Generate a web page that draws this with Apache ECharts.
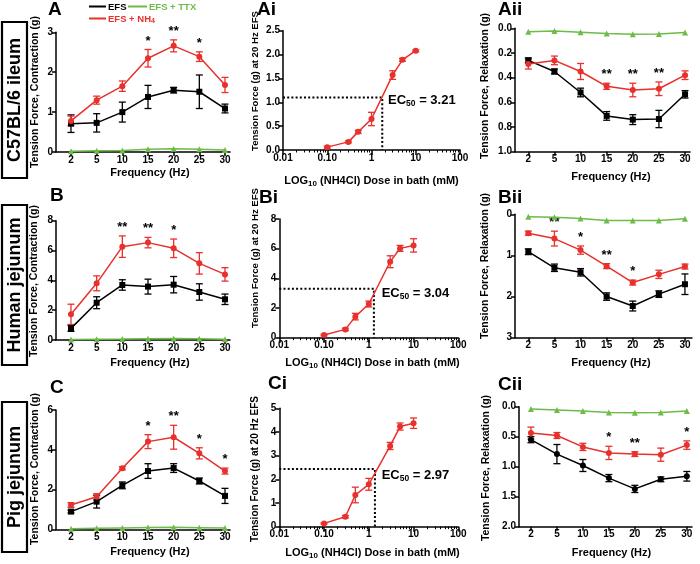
<!DOCTYPE html>
<html><head><meta charset="utf-8">
<script src="https://cdn.jsdelivr.net/npm/echarts@6/dist/echarts.min.js"></script>
<style>html,body{margin:0;padding:0;background:#fff}#c{width:700px;height:564px}</style>
</head><body><div id="c"></div>
<script>
// ---------------- DATA ----------------
const freqLabels = ['2', '5', '10', '15', '20', '25', '30'];
const doses = [0.1, 0.3, 0.5, 1, 3, 5, 10];
const logTickValues = [0.01, 0.1, 1, 10, 100];
const logTickLabels = ['0.01', '0.10', '1', '10', '100'];
const logMinorTicks = [0.02,0.03,0.04,0.05,0.06,0.07,0.08,0.09,0.2,0.3,0.4,0.5,0.6,0.7,0.8,0.9,2,3,4,5,6,7,8,9,20,30,40,50,60,70,80,90];

// Panel A (C57BL/6 ileum, contraction)
const A_efs = [0.71, 0.73, 1.00, 1.38, 1.55, 1.51, 1.09];
const A_efsErr = [0.22, 0.23, 0.25, 0.29, 0.07, 0.42, 0.11];
const A_nh4 = [0.78, 1.30, 1.65, 2.35, 2.66, 2.39, 1.68];
const A_nh4Err = [0.12, 0.10, 0.13, 0.22, 0.15, 0.12, 0.19];
const A_ttx = [0.02, 0.03, 0.04, 0.07, 0.08, 0.07, 0.05];
const A_sig = ['', '', '', '*', '**', '*', ''];

// Panel Ai (dose response)
const Ai_force = [0.06, 0.17, 0.38, 0.65, 1.57, 1.89, 2.08];
const Ai_err = [0.02, 0.02, 0.03, 0.14, 0.09, 0.03, 0.02];
const Ai_ec = [1.75, 1.1];
const Ai_ec50 = '3.21';

// Panel Aii (relaxation)
const Aii_efs = [0.26, 0.35, 0.52, 0.71, 0.74, 0.735, 0.535];
const Aii_efsErr = [0.02, 0.02, 0.035, 0.035, 0.04, 0.07, 0.03];
const Aii_nh4 = [0.29, 0.26, 0.35, 0.47, 0.50, 0.49, 0.38];
const Aii_nh4Err = [0.04, 0.035, 0.065, 0.025, 0.055, 0.055, 0.035];
const Aii_ttx = [0.027, 0.022, 0.032, 0.043, 0.049, 0.046, 0.035];
const Aii_sig = ['', '', '', '**', '**', '**', ''];

// Panel B (Human jejunum)
const B_efs = [0.78, 2.5, 3.69, 3.58, 3.71, 3.22, 2.73];
const B_efsErr = [0.2, 0.4, 0.35, 0.5, 0.55, 0.55, 0.35];
const B_nh4 = [1.72, 3.8, 6.26, 6.53, 6.15, 5.14, 4.4];
const B_nh4Err = [0.68, 0.5, 0.72, 0.35, 0.62, 0.72, 0.45];
const B_ttx = [0.03, 0.05, 0.06, 0.08, 0.1, 0.08, 0.05];
const B_sig = ['', '', '**', '**', '*', '', ''];

const Bi_force = [0.18, 0.56, 1.42, 2.27, 5.12, 6.02, 6.22];
const Bi_err = [0.05, 0.08, 0.22, 0.2, 0.4, 0.2, 0.45];
const Bi_ec = [1.3, 3.3];
const Bi_ec50 = '3.04';

const Bii_efs = [0.91, 1.3, 1.41, 2.0, 2.23, 1.94, 1.7];
const Bii_efsErr = [0.07, 0.09, 0.09, 0.09, 0.12, 0.08, 0.25];
const Bii_nh4 = [0.46, 0.59, 0.87, 1.26, 1.66, 1.46, 1.27];
const Bii_nh4Err = [0.05, 0.18, 0.1, 0.06, 0.06, 0.1, 0.06];
const Bii_ttx = [0.057, 0.07, 0.1, 0.15, 0.15, 0.15, 0.11];
const Bii_sig = ['', '**', '*', '**', '*', '', ''];

// Panel C (Pig jejunum)
const C_efs = [0.89, 1.39, 2.21, 2.93, 3.08, 2.43, 1.68];
const C_efsErr = [0.07, 0.32, 0.17, 0.37, 0.22, 0.15, 0.38];
const C_nh4 = [1.22, 1.64, 3.07, 4.41, 4.63, 3.82, 2.93];
const C_nh4Err = [0.12, 0.15, 0.08, 0.35, 0.6, 0.28, 0.15];
const C_ttx = [0.03, 0.05, 0.07, 0.09, 0.1, 0.08, 0.06];
const C_sig = ['', '', '', '*', '**', '*', '*'];

const Ci_force = [0.14, 0.42, 1.34, 1.79, 3.41, 4.23, 4.37];
const Ci_err = [0.03, 0.05, 0.33, 0.25, 0.15, 0.15, 0.22];
const Ci_ec = [1.37, 2.44];
const Ci_ec50 = '2.97';

const Cii_efs = [0.55, 0.79, 0.98, 1.19, 1.37, 1.21, 1.16];
const Cii_efsErr = [0.05, 0.16, 0.1, 0.06, 0.06, 0.04, 0.08];
const Cii_nh4 = [0.44, 0.48, 0.67, 0.77, 0.79, 0.80, 0.64];
const Cii_nh4Err = [0.1, 0.05, 0.06, 0.11, 0.04, 0.11, 0.07];
const Cii_ttx = [0.04, 0.055, 0.07, 0.095, 0.1, 0.095, 0.07];
const Cii_sig = ['', '', '', '*', '**', '', '*'];

// ---------------- BUILD ----------------
const FONT = '"Liberation Sans", Arial, Helvetica, sans-serif';
const RED = '#e8302c', GREEN = '#6dbb48', BLACK = '#000000';
const grid = [], xAxis = [], yAxis = [], series = [], graphic = [];
const idx = freqLabels.map((_, i) => i);

function baseAxis() {
  return {
    axisLine: { show: true, onZero: false, lineStyle: { color: '#000', width: 1.5 } },
    axisTick: { show: true, length: 4, lineStyle: { color: '#000', width: 1.5 } },
    axisLabel: { color: '#000', fontFamily: FONT, fontWeight: 'bold', fontSize: 10, margin: 3 },
    splitLine: { show: false }
  };
}
function lineS(name, data, color, symbol, size, ax) {
  return Object.assign({
    type: 'line', name, data, symbol, symbolSize: size, color,
    lineStyle: { color, width: 1.5 }, itemStyle: { color }, animation: false
  }, ax);
}
function errS(name, xs, mean, err, color, ax) {
  return Object.assign({
    type: 'custom', name, animation: false,
    data: mean.map((m, i) => [xs[i], m - err[i], m + err[i]]),
    renderItem: function (params, api) {
      const p1 = api.coord([api.value(0), api.value(1)]);
      const p2 = api.coord([api.value(0), api.value(2)]);
      const w = 3.5, st = { stroke: color, lineWidth: 1.3 };
      return { type: 'group', children: [
        { type: 'line', shape: { x1: p1[0], y1: p1[1], x2: p2[0], y2: p2[1] }, style: st },
        { type: 'line', shape: { x1: p1[0] - w, y1: p1[1], x2: p1[0] + w, y2: p1[1] }, style: st },
        { type: 'line', shape: { x1: p2[0] - w, y1: p2[1], x2: p2[0] + w, y2: p2[1] }, style: st }
      ]};
    }
  }, ax);
}
function starS(mean, err, sig, ax) {
  return Object.assign({
    type: 'custom', name: 'sig', animation: false, silent: true,
    data: mean.map((m, i) => [i, m - err[i], m + err[i]]),
    renderItem: function (params, api) {
      const s = sig[params.dataIndex];
      if (!s) return null;
      const a = api.coord([api.value(0), api.value(1)]);
      const b = api.coord([api.value(0), api.value(2)]);
      const y = Math.min(a[1], b[1]);
      return { type: 'text', x: a[0], y: y - 2,
        style: { text: s, fill: '#000', font: 'bold 13px ' + FONT, align: 'center', verticalAlign: 'bottom' } };
    }
  }, ax);
}

function addFreqPanel(p) {
  const gi = grid.length;
  grid.push({ left: p.box[0], top: p.box[1], width: p.box[2], height: p.box[3] });
  const xi = xAxis.length;
  const xa = baseAxis();
  Object.assign(xa, { type: 'value', gridIndex: gi, position: 'bottom', min: p.xMin, max: p.xMax });
  xa.axisTick.customValues = idx;
  xa.axisLabel.customValues = idx;
  xa.axisLabel.formatter = v => freqLabels[Math.round(v)];
  xAxis.push(xa);
  const yi = yAxis.length;
  const ya = baseAxis();
  Object.assign(ya, { type: 'value', gridIndex: gi, position: 'left', min: 0, max: p.yMax, interval: p.yInt, inverse: !!p.inverse });
  ya.axisLabel.formatter = p.yFmt;
  yAxis.push(ya);
  const ax = { xAxisIndex: xi, yAxisIndex: yi };
  series.push(lineS('EFS + TTX', p.ttx.map((v, i) => [i, v]), GREEN, 'triangle', 6, ax));
  series.push(errS('EFS err', idx, p.efs, p.efsErr, BLACK, ax));
  series.push(lineS('EFS', p.efs.map((v, i) => [i, v]), BLACK, p.efsSymbol || 'rect', 6, ax));
  series.push(errS('EFS + NH4 err', idx, p.nh4, p.nh4Err, RED, ax));
  series.push(lineS('EFS + NH4', p.nh4.map((v, i) => [i, v]), RED, 'circle', 6, ax));
  series.push(starS(p.nh4, p.nh4Err, p.sig, ax));
}

function addLogPanel(p) {
  const gi = grid.length;
  grid.push({ left: p.box[0], top: p.box[1], width: p.box[2], height: p.box[3] });
  const xi = xAxis.length;
  const xa = baseAxis();
  Object.assign(xa, { type: 'log', logBase: 10, gridIndex: gi, position: 'bottom', min: 0.01, max: 100 });
  xa.axisTick.customValues = logTickValues;
  xa.axisTick.length = 5;
  xa.axisLabel.customValues = logTickValues;
  xa.axisLabel.formatter = v => logTickLabels[Math.round(Math.log10(v)) + 2];
  xAxis.push(xa);
  const xm = baseAxis();
  Object.assign(xm, { type: 'log', logBase: 10, gridIndex: gi, position: 'bottom', offset: 0, min: 0.01, max: 100 });
  xm.axisLine.show = false;
  xm.axisLabel.show = false;
  xm.axisTick.customValues = logMinorTicks;
  xm.axisTick.length = 2.5;
  xm.axisTick.lineStyle.width = 1;
  xAxis.push(xm);
  const yi = yAxis.length;
  const ya = baseAxis();
  Object.assign(ya, { type: 'value', gridIndex: gi, position: 'left', min: 0, max: p.yMax, interval: p.yInt });
  ya.axisLabel.formatter = p.yFmt;
  yAxis.push(ya);
  const ax = { xAxisIndex: xi, yAxisIndex: yi };
  series.push(Object.assign({
    type: 'line', name: 'EC50', symbol: 'none', animation: false, silent: true,
    data: [[0.01, p.ec[1]], [p.ec[0], p.ec[1]], [p.ec[0], 0]],
    lineStyle: { color: '#000', width: 2, type: [2, 2.2] }
  }, ax));
  series.push(errS('EFS + NH4 err', doses, p.force, p.err, RED, ax));
  series.push(lineS('EFS + NH4', p.force.map((v, i) => [doses[i], v]), RED, 'circle', 6, ax));
}

const fmtInt = v => String(Math.round(v));
const fmt1 = v => v.toFixed(1);

addFreqPanel({ box: [56, 32.3, 174, 119.7], xMin: -0.584, xMax: 6.195, yMax: 3, yInt: 1, yFmt: fmtInt,
  efs: A_efs, efsErr: A_efsErr, nh4: A_nh4, nh4Err: A_nh4Err, ttx: A_ttx, sig: A_sig });
addLogPanel({ box: [283, 30.7, 177, 119.3], yMax: 2.5, yInt: 0.5, yFmt: fmt1, force: Ai_force, err: Ai_err, ec: Ai_ec });
addFreqPanel({ box: [515, 28.3, 175, 123.4], xMin: -0.51, xMax: 6.19, yMax: 1, yInt: 0.2, yFmt: fmt1, inverse: true,
  efs: Aii_efs, efsErr: Aii_efsErr, nh4: Aii_nh4, nh4Err: Aii_nh4Err, ttx: Aii_ttx, sig: Aii_sig });

addFreqPanel({ box: [56, 220.7, 174, 119.3], xMin: -0.584, xMax: 6.195, yMax: 8, yInt: 2, yFmt: fmtInt,
  efs: B_efs, efsErr: B_efsErr, nh4: B_nh4, nh4Err: B_nh4Err, ttx: B_ttx, sig: B_sig });
addLogPanel({ box: [279.3, 219, 179, 118.7], yMax: 8, yInt: 2, yFmt: fmtInt, force: Bi_force, err: Bi_err, ec: Bi_ec });
addFreqPanel({ box: [515, 214.3, 177, 123.4], xMin: -0.51, xMax: 6.27, yMax: 3, yInt: 1, yFmt: fmtInt, inverse: true,
  efs: Bii_efs, efsErr: Bii_efsErr, nh4: Bii_nh4, nh4Err: Bii_nh4Err, ttx: Bii_ttx, sig: Bii_sig });

addFreqPanel({ box: [56, 410, 174, 119.3], xMin: -0.584, xMax: 6.195, yMax: 6, yInt: 2, yFmt: fmtInt,
  efs: C_efs, efsErr: C_efsErr, nh4: C_nh4, nh4Err: C_nh4Err, ttx: C_ttx, sig: C_sig });
addLogPanel({ box: [279.3, 408.3, 179, 118.4], yMax: 5, yInt: 1, yFmt: fmtInt, force: Ci_force, err: Ci_err, ec: Ci_ec });
addFreqPanel({ box: [519, 406.7, 173, 120], xMin: -0.46, xMax: 6.2, yMax: 2, yInt: 0.5, yFmt: fmt1, inverse: true,
  efs: Cii_efs, efsErr: Cii_efsErr, nh4: Cii_nh4, nh4Err: Cii_nh4Err, ttx: Cii_ttx, sig: Cii_sig, efsSymbol: 'circle' });

// ---------------- TEXT / ANNOTATIONS ----------------
function txt(x, y, text, size, opts) {
  opts = opts || {};
  return {
    type: 'text', x, y, rotation: opts.rot || 0, silent: true,
    style: Object.assign({
      text, fill: opts.color || '#000', font: 'bold ' + size + 'px ' + FONT,
      align: opts.align || 'center', verticalAlign: opts.va || 'middle'
    }, opts.rich ? { rich: opts.rich } : {})
  };
}
// panel letters
[['A', 48, 10], ['Ai', 257, 10], ['Aii', 498, 10],
 ['B', 50, 196], ['Bi', 259, 198], ['Bii', 498, 198],
 ['C', 50, 388], ['Ci', 268, 384], ['Cii', 498, 385]].forEach(l => {
  graphic.push(txt(l[1], l[2], l[0], 19, { align: 'left' }));
});
// legend
graphic.push({ type: 'line', silent: true, shape: { x1: 89, y1: 6.5, x2: 106, y2: 6.5 }, style: { stroke: BLACK, lineWidth: 2 } });
graphic.push(txt(108, 7, 'EFS', 9.5, { align: 'left' }));
graphic.push({ type: 'line', silent: true, shape: { x1: 128, y1: 6.5, x2: 147, y2: 6.5 }, style: { stroke: GREEN, lineWidth: 2 } });
graphic.push(txt(149, 7, 'EFS + TTX', 9.5, { align: 'left', color: GREEN }));
graphic.push({ type: 'line', silent: true, shape: { x1: 89, y1: 18.5, x2: 106, y2: 18.5 }, style: { stroke: RED, lineWidth: 2 } });
graphic.push(txt(108, 19, '{a|EFS + NH}{s|4}', 9.5, { align: 'left', color: RED, rich: {
  a: { fontFamily: FONT, fontWeight: 'bold', fontSize: 9.5, color: RED, lineHeight: 12 },
  s: { fontFamily: FONT, fontWeight: 'bold', fontSize: 7, color: RED, verticalAlign: 'bottom', lineHeight: 8 } } }));

// y-axis names
const yContr = 'Tension Force, Contraction (g)';
const yDose = 'Tension Force (g) at 20 Hz EFS';
const yRelax = 'Tension Force, Relaxation (g)';
const R = Math.PI / 2;
graphic.push(txt(35.5, 92, yContr, 10.5, { rot: R }));
graphic.push(txt(255.5, 81, yDose, 9.6, { rot: R }));
graphic.push(txt(485.5, 86, yRelax, 10.5, { rot: R }));
graphic.push(txt(34.5, 281, yContr, 10.5, { rot: R }));
graphic.push(txt(255.5, 258, yDose, 9.6, { rot: R }));
graphic.push(txt(485.5, 266, yRelax, 10.5, { rot: R }));
graphic.push(txt(35, 469, yContr, 10.5, { rot: R }));
graphic.push(txt(255.5, 469, yDose, 10, { rot: R }));
graphic.push(txt(486, 468, yRelax, 10.5, { rot: R }));

// x-axis names
const xFreq = 'Frequency (Hz)';
const xDose = '{a|LOG}{s|10}{a| (NH4Cl) Dose in bath (mM)}';
const doseRich = {
  a: { fontFamily: FONT, fontWeight: 'bold', fontSize: 11, color: '#000', lineHeight: 14 },
  s: { fontFamily: FONT, fontWeight: 'bold', fontSize: 8, color: '#000', verticalAlign: 'bottom', lineHeight: 8 }
};
graphic.push(txt(150, 173, xFreq, 11));
graphic.push(txt(371.5, 181, xDose, 11, { rich: doseRich }));
graphic.push(txt(611, 177, xFreq, 11));
graphic.push(txt(150, 363, xFreq, 11));
graphic.push(txt(372.5, 363, xDose, 11, { rich: doseRich }));
graphic.push(txt(611, 363, xFreq, 11));
graphic.push(txt(150, 552, xFreq, 11));
graphic.push(txt(372.5, 553, xDose, 11, { rich: doseRich }));
graphic.push(txt(611.5, 552.5, xFreq, 11));

// EC50 labels
const ecRich = {
  a: { fontFamily: FONT, fontWeight: 'bold', fontSize: 13, color: '#000', lineHeight: 16 },
  s: { fontFamily: FONT, fontWeight: 'bold', fontSize: 8.5, color: '#000', verticalAlign: 'bottom', lineHeight: 9 }
};
[[388, 100, Ai_ec50], [381.7, 293, Bi_ec50], [381.7, 475.5, Ci_ec50]].forEach(e => {
  graphic.push(txt(e[0], e[1], '{a|EC}{s|50}{a| = ' + e[2] + '}', 13, { align: 'left', rich: ecRich }));
});

// row label boxes
[['C57BL/6 ileum', 22, 156], ['Human jejunum', 205, 160], ['Pig jejunum', 402, 150]].forEach(b => {
  graphic.push({ type: 'rect', silent: true, shape: { x: 2, y: b[1], width: 25, height: b[2] },
    style: { fill: '#fff', stroke: '#000', lineWidth: 2.2 } });
  graphic.push(txt(15, b[1] + b[2] / 2, b[0], 18, { rot: R }));
});

const chart = echarts.init(document.getElementById('c'), null, { renderer: 'canvas' });
chart.setOption({
  backgroundColor: '#fff', animation: false,
  textStyle: { fontFamily: FONT },
  grid, xAxis, yAxis, series, graphic
});
</script></body></html>
